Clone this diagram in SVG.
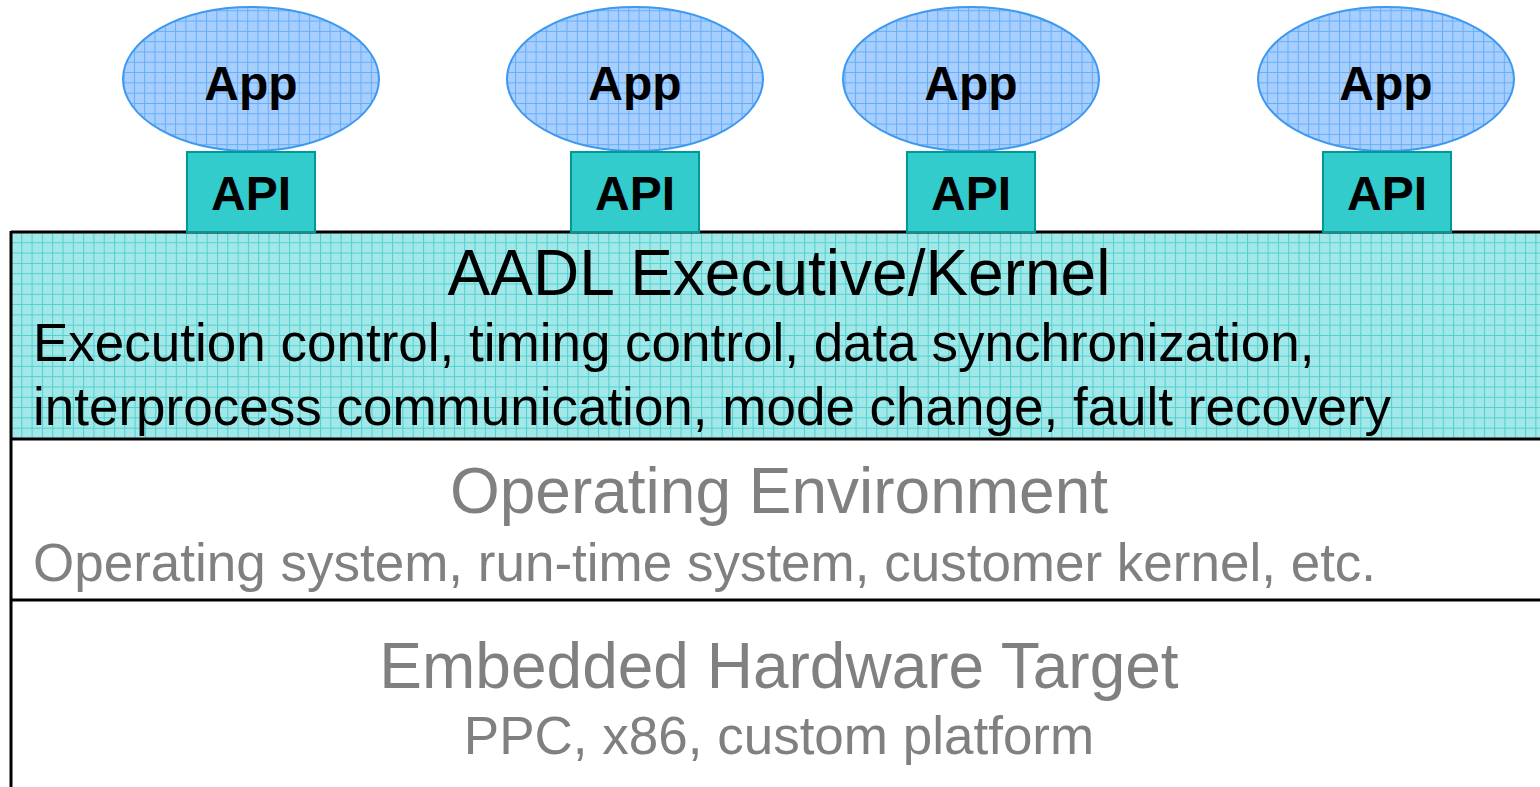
<svg xmlns="http://www.w3.org/2000/svg" width="1540" height="787" viewBox="0 0 1540 787">
  <defs>
    <!-- grid fills for apps and kernel layer -->
    <pattern id="gridBlue" patternUnits="userSpaceOnUse" width="10.3" height="10.3">
      <rect width="10.3" height="10.3" fill="#a6ceff"/>
      <path d="M0 0.5 H10.3 M0.5 0 V10.3" stroke="#66adf5" stroke-width="1" fill="none"/>
    </pattern>
    <pattern id="gridCyan" patternUnits="userSpaceOnUse" width="10.3" height="10.3" x="11" y="232">
      <rect width="10.3" height="10.3" fill="#a3e8e8"/>
      <path d="M0 0.5 H10.3 M0.5 0 V10.3" stroke="#4dd0d0" stroke-width="1" fill="none"/>
    </pattern>
  </defs>
  <style>
    .app { fill: url(#gridBlue); stroke: #3d98f0; stroke-width: 2; }
    .api { fill: #33cccc; stroke: #009999; stroke-width: 2; }
    .bold { font-family: "Liberation Sans", Arial, sans-serif; font-weight: bold; fill: #000; text-anchor: middle; font-size: 48px; }
    .t { font-family: "Liberation Sans", Arial, sans-serif; }
    .head { font-size: 64px; text-anchor: middle; }
    .body { font-size: 53px; }
    .gray { fill: #808080; }
    .layer { stroke: #000; stroke-width: 3; }
  </style>
  <rect width="1540" height="787" fill="#fff"/>

  <!-- kernel layer -->
  <g id="kernel">
    <rect x="11" y="232" width="1540" height="207" fill="url(#gridCyan)"/>
    <line class="layer" x1="11" y1="232" x2="1540" y2="232"/>
    <line class="layer" x1="11" y1="439" x2="1540" y2="439"/>
    <text class="t head" x="779" y="295">AADL Executive/Kernel</text>
    <text class="t body" x="33" y="361">Execution control, timing control, data synchronization,</text>
    <text class="t body" x="33" y="425">interprocess communication, mode change, fault recovery</text>
  </g>

  <!-- operating environment layer -->
  <g id="os">
    <line class="layer" x1="11" y1="600" x2="1540" y2="600"/>
    <text class="t head gray" x="779" y="513">Operating Environment</text>
    <text class="t body gray" x="33" y="581">Operating system, run-time system, customer kernel, etc.</text>
  </g>

  <!-- hardware layer -->
  <g id="hardware">
    <text class="t head gray" x="779" y="688">Embedded Hardware Target</text>
    <text class="t body gray" x="779" y="754" text-anchor="middle">PPC, x86, custom platform</text>
  </g>

  <line class="layer" x1="11" y1="231" x2="11" y2="787"/>

  <!-- applications and their APIs -->
  <g id="app1">
    <ellipse class="app" cx="251" cy="79" rx="128" ry="72"/>
    <text class="bold" x="251" y="100">App</text>
  </g>
  <g id="api1">
    <rect class="api" x="187" y="152" width="128" height="80"/>
    <text class="bold" x="251" y="210">API</text>
  </g>
  <g id="app2">
    <ellipse class="app" cx="635" cy="79" rx="128" ry="72"/>
    <text class="bold" x="635" y="100">App</text>
  </g>
  <g id="api2">
    <rect class="api" x="571" y="152" width="128" height="80"/>
    <text class="bold" x="635" y="210">API</text>
  </g>
  <g id="app3">
    <ellipse class="app" cx="971" cy="79" rx="128" ry="72"/>
    <text class="bold" x="971" y="100">App</text>
  </g>
  <g id="api3">
    <rect class="api" x="907" y="152" width="128" height="80"/>
    <text class="bold" x="971" y="210">API</text>
  </g>
  <g id="app4">
    <ellipse class="app" cx="1386" cy="79" rx="128" ry="72"/>
    <text class="bold" x="1386" y="100">App</text>
  </g>
  <g id="api4">
    <rect class="api" x="1323" y="152" width="128" height="80"/>
    <text class="bold" x="1387" y="210">API</text>
  </g>
</svg>
